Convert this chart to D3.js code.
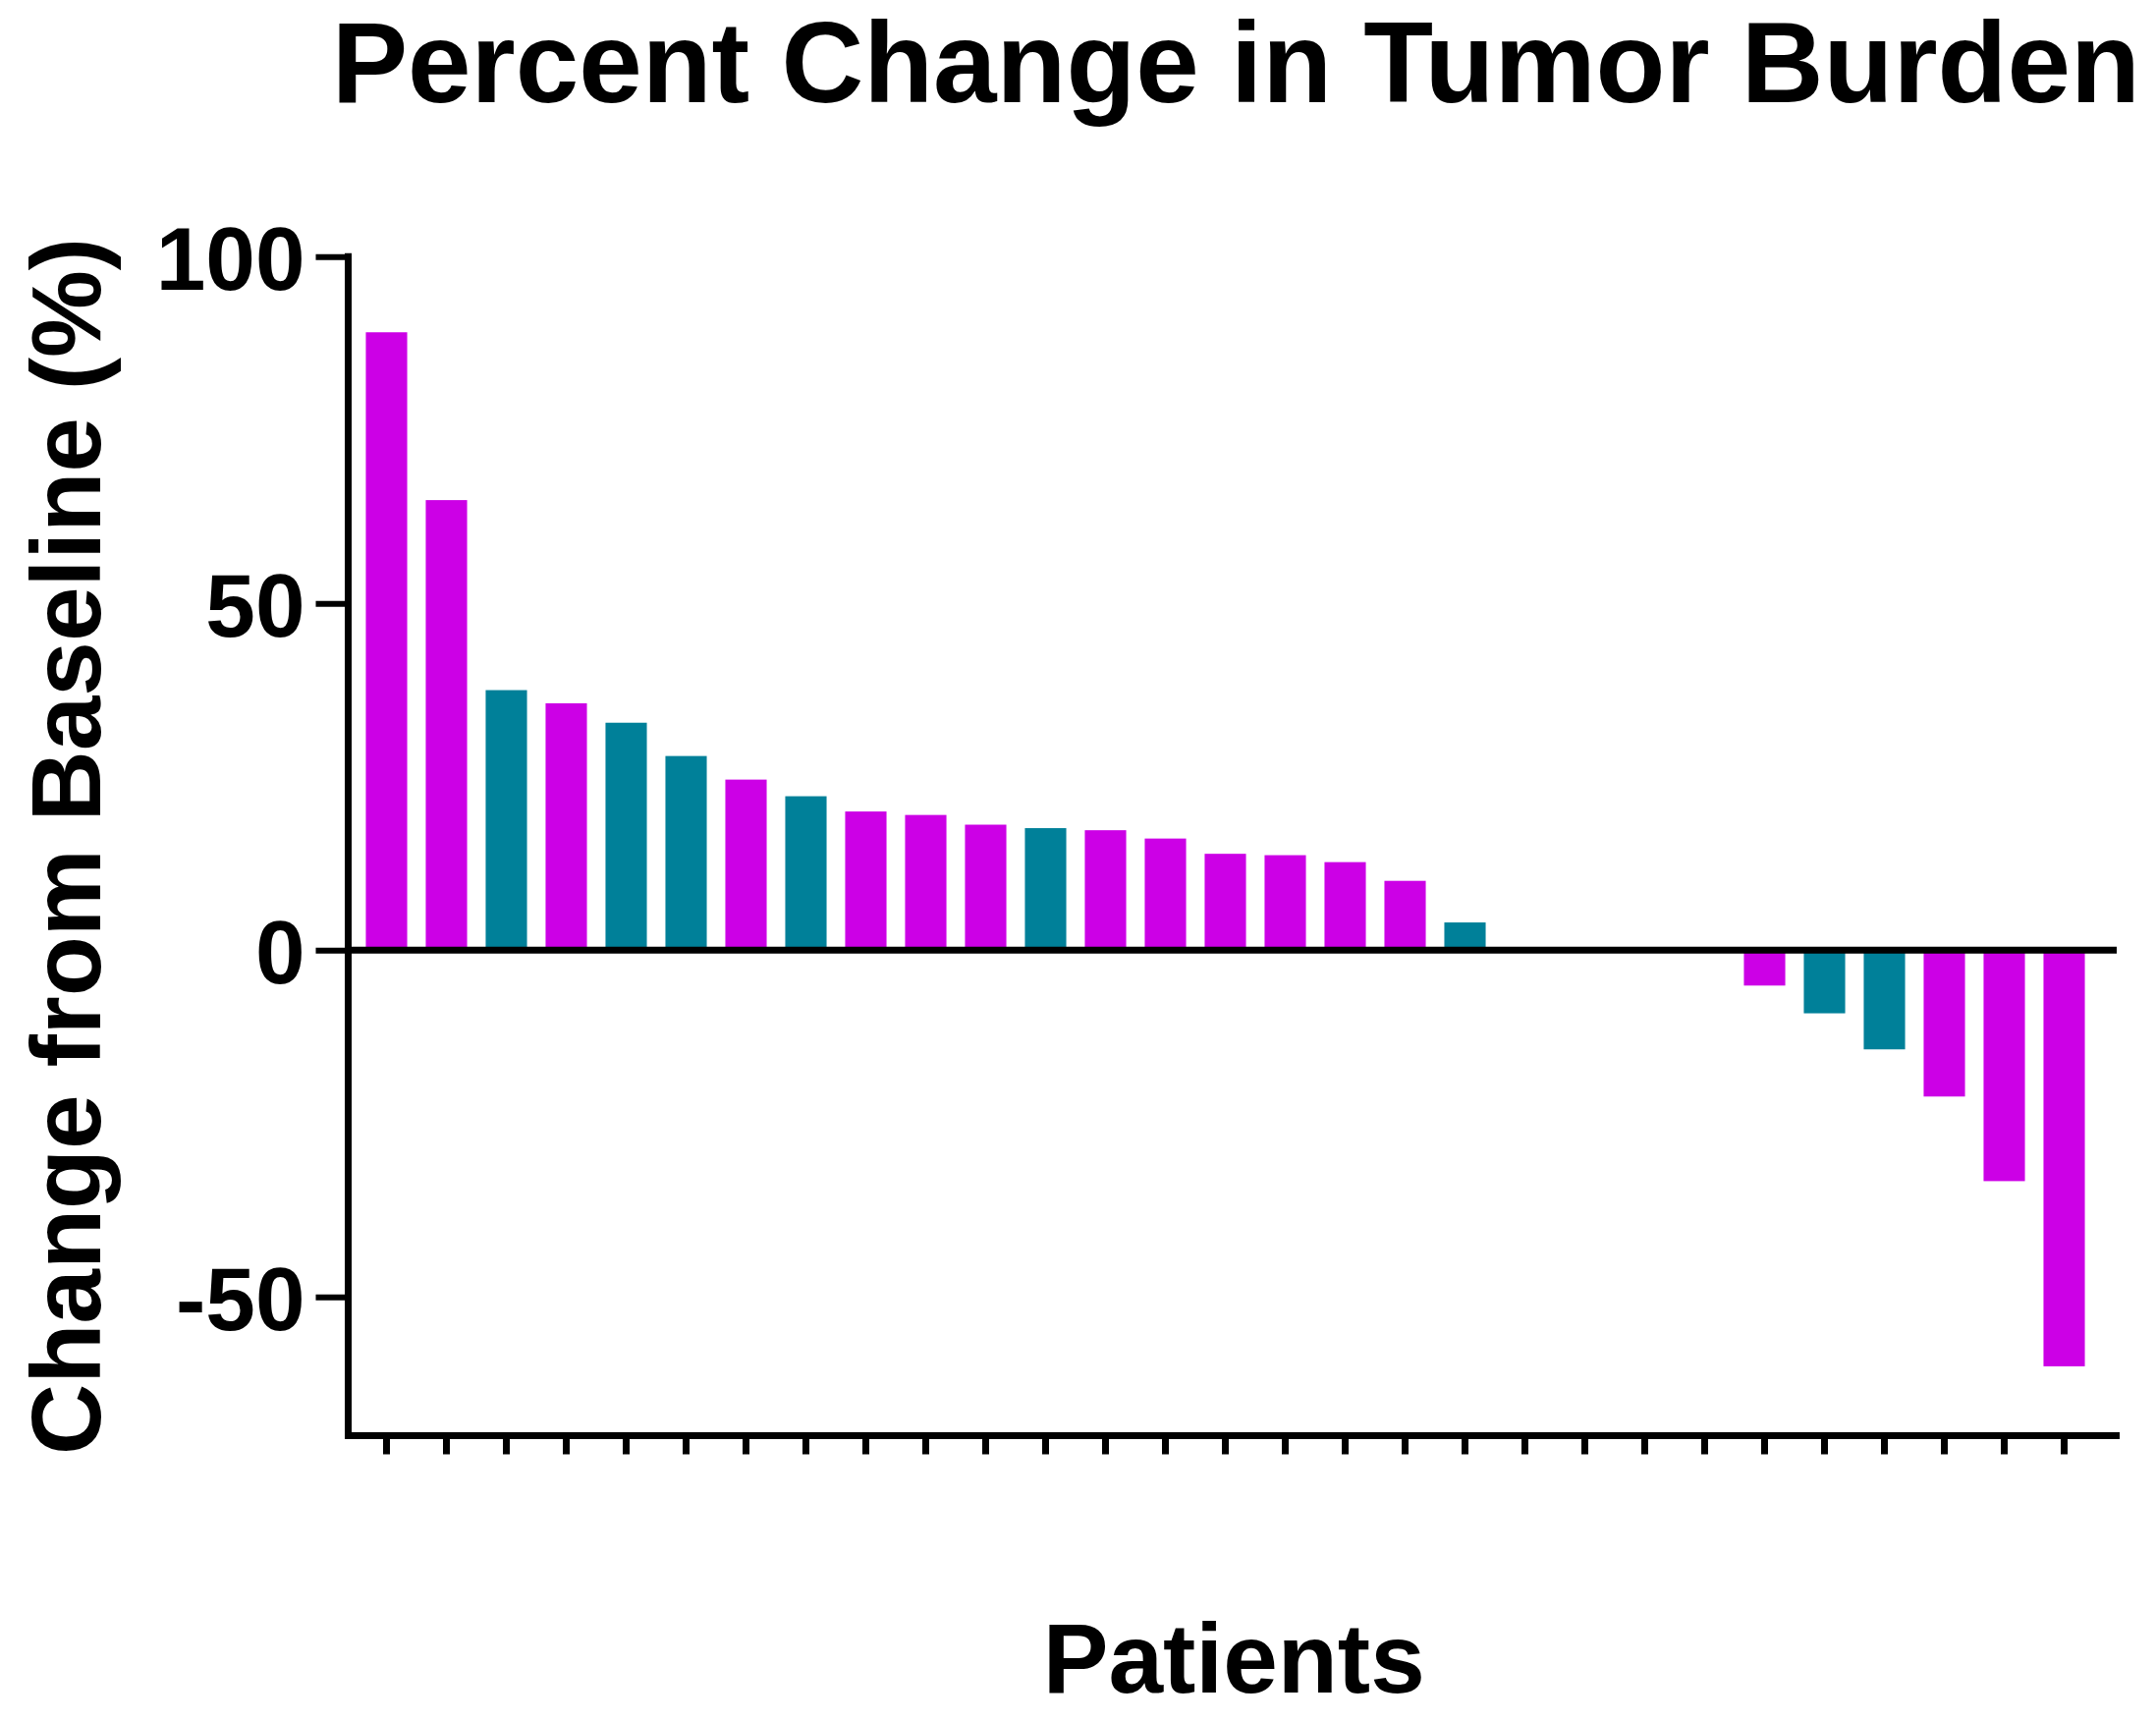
<!DOCTYPE html>
<html>
<head>
<meta charset="utf-8">
<script src="https://cdn.jsdelivr.net/npm/d3@7"></script>
<style>
  html, body { margin: 0; padding: 0; background: #ffffff; }
  svg { display: block; }
  text { font-family: "Liberation Sans", Arial, Helvetica, sans-serif; font-weight: bold; fill: #000; }
</style>
</head>
<body>
<svg id="chart" width="2195" height="1753"></svg>
<script>
// ---- data ----
const patients = ["P1","P2","P3","P4","P5","P6","P7","P8","P9","P10","P11","P12","P13","P14","P15",
                  "P16","P17","P18","P19","P20","P21","P22","P23","P24","P25","P26","P27","P28","P29"];
const changes  = [89.1, 64.9, 37.5, 35.6, 32.8, 28.0, 24.6, 22.2, 20.0, 19.5, 18.1, 17.6, 17.3, 16.1, 13.9,
                  13.7, 12.7, 10.0, 4.0, 0, 0, 0, 0, -5.1, -9.1, -14.3, -21.1, -33.3, -60.0];
const groups   = ["A","A","B","A","B","B","A","B","A","A","A","B","A","A","A",
                  "A","A","A","B","A","A","A","A","A","B","B","A","A","A"];
const groupColors = { A: "#cc00e6", B: "#008099" };
const yTicks = [-50, 0, 50, 100];
const yTickLabels = ["-50", "0", "50", "100"];
const yDomain = [-70, 100];
const titleText = "Percent Change in Tumor Burden";
const yTitle = "Change from Baseline (%)";
const xTitle = "Patients";

// ---- layout ----
const svg = d3.select("#chart");
svg.append("rect").attr("width", 2195).attr("height", 1753).attr("fill", "#fff");

const axisX = 354.5;      // y-axis position
const axisRight = 2158;   // end of x-axis line
const y = d3.scaleLinear().domain(yDomain).range([1461.5, 261.3]);
const x = d3.scaleBand().domain(patients).range([363, 2132])
            .paddingInner(0.31).paddingOuter(0.155);

// bars
svg.append("g").selectAll("rect")
  .data(patients.map((p, i) => ({ p, v: changes[i], g: groups[i] })))
  .join("rect")
  .attr("x", d => x(d.p))
  .attr("width", x.bandwidth())
  .attr("y", d => Math.min(y(d.v), y(0)))
  .attr("height", d => Math.abs(y(d.v) - y(0)))
  .attr("fill", d => groupColors[d.g]);

// zero line
svg.append("line")
  .attr("x1", axisX).attr("x2", 2155)
  .attr("y1", y(0)).attr("y2", y(0))
  .attr("stroke", "#000").attr("stroke-width", 7);

// y axis
const yAxis = d3.axisLeft(y).tickValues(yTicks)
  .tickFormat(d => yTickLabels[yTicks.indexOf(d)])
  .tickSize(33).tickSizeOuter(0).tickPadding(11);
const gy = svg.append("g").attr("transform", `translate(${axisX},0)`).call(yAxis);
gy.select(".domain").attr("stroke", "#000").attr("stroke-width", 7).attr("stroke-linecap", "square")
  .attr("d", `M0,${y(yDomain[1])}V${y(yDomain[0])}`);
gy.selectAll(".tick line").attr("stroke", "#000").attr("stroke-width", 6);
gy.selectAll(".tick text")
  .attr("font-size", 91).attr("font-family", "'Liberation Sans', Arial, sans-serif")
  .attr("font-weight", "bold").attr("fill", "#000").attr("dy", "0.36em");

// x axis
const xAxis = d3.axisBottom(x).tickSize(19).tickSizeOuter(0).tickFormat("");
const gx = svg.append("g").attr("transform", `translate(0,${y(yDomain[0])})`).call(xAxis);
gx.select(".domain").remove();
gx.selectAll(".tick line").attr("stroke", "#000").attr("stroke-width", 7);
gx.append("line")
  .attr("x1", axisX - 3.5).attr("x2", axisRight)
  .attr("y1", 0).attr("y2", 0)
  .attr("stroke", "#000").attr("stroke-width", 7);

// titles
svg.append("text")
  .attr("x", (axisX + axisRight) / 2 + 2).attr("y", 104)
  .attr("text-anchor", "middle").attr("font-size", 116)
  .text(titleText);

svg.append("text")
  .attr("transform", `translate(102,${(y(yDomain[1]) + y(yDomain[0])) / 2}) rotate(-90)`)
  .attr("text-anchor", "middle").attr("font-size", 100)
  .text(yTitle);

svg.append("text")
  .attr("x", (axisX + axisRight) / 2).attr("y", 1723)
  .attr("text-anchor", "middle").attr("font-size", 100)
  .text(xTitle);
</script>
</body>
</html>
